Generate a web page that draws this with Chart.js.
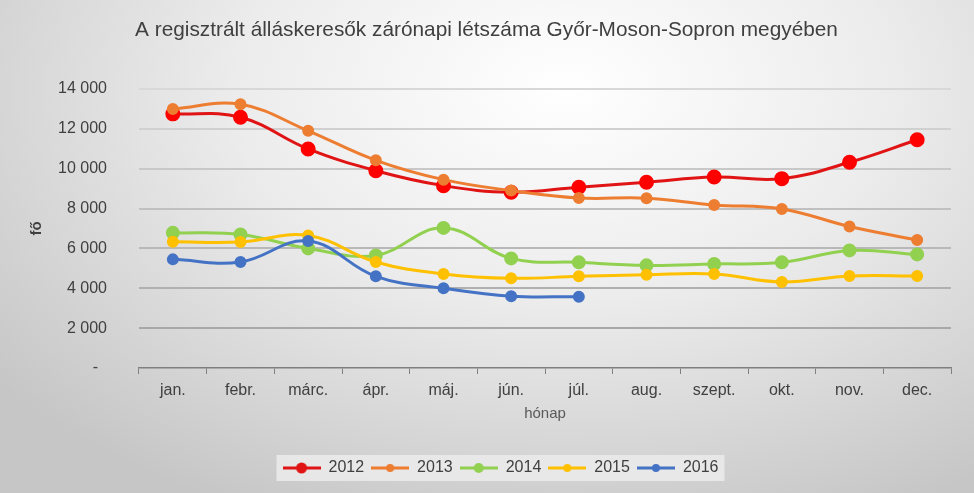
<!DOCTYPE html>
<html>
<head>
<meta charset="utf-8">
<script src="https://cdn.jsdelivr.net/npm/chart.js@4/dist/chart.umd.min.js"></script>
<style>
  html, body { margin: 0; padding: 0; }
  body {
    width: 974px; height: 493px; overflow: hidden;
    background: radial-gradient(ellipse 75% 95% at 58% 18%, #ffffff 0%, #ececec 45%, #c6c6c6 100%);
  }
  canvas { display: block; }
</style>
</head>
<body>
<canvas id="chart" width="974" height="493"></canvas>
<script>
const months = ['jan.', 'febr.', 'márc.', 'ápr.', 'máj.', 'jún.', 'júl.', 'aug.', 'szept.', 'okt.', 'nov.', 'dec.'];
const y2012 = [12750, 12580, 10990, 9900, 9150, 8820, 9070, 9320, 9580, 9500, 10320, 11450];
const y2013 = [13000, 13230, 11900, 10420, 9450, 8900, 8530, 8520, 8180, 7980, 7100, 6420];
const y2014 = [6780, 6700, 6000, 5650, 7030, 5500, 5300, 5150, 5220, 5300, 5900, 5700];
const y2015 = [6330, 6320, 6650, 5320, 4720, 4500, 4600, 4680, 4720, 4320, 4620, 4620];
const y2016 = [5450, 5320, 6370, 4600, 4000, 3600, 3580, null, null, null, null, null];
const yTicks = [0, 2000, 4000, 6000, 8000, 10000, 12000, 14000];

const FONT = '"Liberation Sans", Arial, sans-serif';
const ICON_W = 38;

// legend icon: short line with a dot in the middle
function legendIcon(color, r) {
    const c = document.createElement('canvas');
    c.width = ICON_W; c.height = 14;
    const g = c.getContext('2d');
    g.strokeStyle = color; g.lineWidth = 3;
    g.beginPath(); g.moveTo(0, 7); g.lineTo(ICON_W, 7); g.stroke();
    g.fillStyle = color;
    g.beginPath(); g.arc(ICON_W / 2, 7, r, 0, Math.PI * 2); g.fill();
    return c;
}

function series(label, data, line, point, radius, order) {
    return {
        label, data, order,
        borderColor: line,
        backgroundColor: point,
        pointBackgroundColor: point,
        pointBorderColor: point,
        pointRadius: radius,
        pointHoverRadius: radius,
        borderWidth: 3,
        tension: 0.4,
        spanGaps: false,
        icon: legendIcon(line, radius - 0.5)
    };
}

// title and legend are centred on the page, not on the chart box; grey panel behind the legend
const centerBoxes = {
    id: 'centerBoxes',
    afterLayout(chart) {
        const tb = chart.titleBlock;
        if (tb) { tb.left += 11; tb.right += 11; }
        const lg = chart.legend;
        if (!lg) return;
        const shift = 25;
        lg.left += shift; lg.right += shift;
        (lg.legendHitBoxes || []).forEach(b => { b.left += shift; });
    },
    beforeDraw(chart) {
        const boxes = chart.legend && chart.legend.legendHitBoxes;
        if (!boxes || !boxes.length) return;
        const left = Math.min(...boxes.map(b => b.left)) - 6;
        const right = Math.max(...boxes.map(b => b.left + b.width)) + 6;
        const top = boxes[0].top - 5;
        const h = boxes[0].height + 10;
        const ctx = chart.ctx;
        ctx.save();
        ctx.fillStyle = 'rgba(234,234,234,0.9)';
        ctx.fillRect(left, top, right - left, h);
        ctx.restore();
    }
};

new Chart(document.getElementById('chart'), {
    type: 'line',
    data: {
        labels: months,
        datasets: [
            series('2012', y2012, '#e01414', '#ff0000', 6, 5),
            series('2013', y2013, '#ed7d31', '#ed7d31', 4.5, 4),
            series('2014', y2014, '#92d050', '#92d050', 5.5, 3),
            series('2015', y2015, '#ffc000', '#ffc000', 4.5, 2),
            series('2016', y2016, '#4472c4', '#4472c4', 4.5, 1)
        ]
    },
    plugins: [centerBoxes],
    options: {
        responsive: false,
        animation: false,
        devicePixelRatio: 1,
        layout: { padding: { left: 0, right: 23, top: 0, bottom: 7 } },
        plugins: {
            title: {
                display: true,
                text: 'A regisztrált álláskeresők zárónapi létszáma Győr-Moson-Sopron megyében',
                color: '#404040',
                font: { family: FONT, size: 20.8, weight: 'normal' },
                padding: { top: 18, bottom: 46 }
            },
            legend: {
                position: 'bottom',
                labels: {
                    color: '#404040',
                    font: { family: FONT, size: 16 },
                    usePointStyle: true,
                    pointStyleWidth: ICON_W,
                    padding: 7,
                    generateLabels(chart) {
                        return chart.data.datasets.map((ds, i) => ({
                            text: ds.label,
                            pointStyle: ds.icon,
                            fillStyle: ds.borderColor,
                            strokeStyle: ds.borderColor,
                            lineWidth: 0,
                            fontColor: '#404040',
                            hidden: !chart.isDatasetVisible(i),
                            datasetIndex: i
                        }));
                    }
                }
            },
            tooltip: { enabled: false }
        },
        scales: {
            x: {
                offset: true,
                afterFit(scale) { scale.height = 85; },
                grid: {
                    offset: true,
                    drawOnChartArea: false,
                    drawTicks: true,
                    tickLength: 6,
                    color: '#808080'
                },
                border: { display: true, color: '#7f7f7f', width: 1.5 },
                ticks: {
                    color: '#404040',
                    font: { family: FONT, size: 16 },
                    padding: 7,
                    maxRotation: 0,
                    autoSkip: false
                },
                title: {
                    display: true,
                    text: 'hónap',
                    color: '#595959',
                    font: { family: FONT, size: 15 },
                    padding: { top: 0, bottom: 30 }
                }
            },
            y: {
                min: 0,
                max: 14000,
                afterFit(scale) { scale.width = 139; },
                afterBuildTicks(scale) { scale.ticks = yTicks.map(v => ({ value: v })); },
                border: { display: false },
                grid: {
                    drawTicks: false,
                    lineWidth: 2,
                    color(ctx) {
                        if (ctx.tick && ctx.tick.value === 0) return 'rgba(0,0,0,0)';
                        const t = ctx.tick ? ctx.tick.value / 14000 : 0;
                        const c = Math.round(160 + 56 * t);
                        return 'rgb(' + c + ',' + c + ',' + c + ')';
                    }
                },
                ticks: {
                    color: '#404040',
                    font: { family: FONT, size: 16 },
                    padding: 32,
                    callback(v) {
                        if (v === 0) return '-  ';
                        return String(v).replace(/\B(?=(\d{3})+(?!\d))/g, ' ');
                    }
                },
                title: {
                    display: true,
                    text: 'fő',
                    color: '#404040',
                    font: { family: FONT, size: 15, weight: 'bold' },
                    padding: { top: 28, bottom: 0 }
                }
            }
        }
    }
});
</script>
</body>
</html>
